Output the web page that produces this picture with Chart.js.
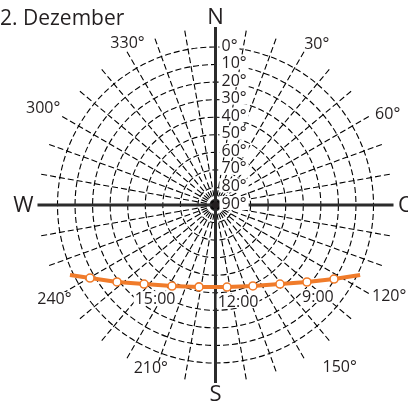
<!DOCTYPE html>
<html>
<head>
<meta charset="utf-8">
<script src="https://cdn.jsdelivr.net/npm/chart.js@4.4.1/dist/chart.umd.min.js"></script>
<style>
  html, body { margin: 0; padding: 0; background: #fff; }
  #wrap { width: 408px; height: 401px; position: relative; }
</style>
</head>
<body>
<div id="wrap"><canvas id="sunChart"></canvas></div>
<script>
// Titel und Beschriftungen
const titleText = '2. Dezember';
const altitudeRings = [0, 10, 20, 30, 40, 50, 60, 70, 80];
const altitudeLabels = ['0°', '10°', '20°', '30°', '40°', '50°', '60°', '70°', '80°', '90°'];
const azimuthTicks = [30, 60, 120, 150, 210, 240, 300, 330];
const azimuthLabels = ['30°', '60°', '120°', '150°', '210°', '240°', '300°', '330°'];
const cardinalLabels = ['N', 'O', 'S', 'W'];

// Sonnenbahn (Azimut / Höhe in Grad)
const pathAzimuth  = [244.3, 239.8, 232.0, 222.1, 208.2, 191.4, 172.0, 155.2, 140.8, 130.1, 122.0, 115.8];
const pathAltitude = [-2.0, 7.3, 18.8, 29.3, 37.6, 42.4, 42.8, 39.2, 31.9, 21.9, 10.4, -1.5];
const pathHours    = ['', '17:00', '16:00', '15:00', '14:00', '13:00', '12:00', '11:00', '10:00', '9:00', '8:00', ''];
const shownHours   = ['15:00', '12:00', '9:00'];

const ORANGE = '#f07b2a';
const INK = '#231f20';
const FONT = '"Open Sans", "Noto Sans", sans-serif';

function toXY(az, alt) {
  const r = 90 - alt;
  const a = az * Math.PI / 180;
  return { x: r * Math.sin(a), y: r * Math.cos(a) };
}

const pathPoints = pathAzimuth.map((az, i) => toXY(az, pathAltitude[i]));

// Gitter, Achsen und Texte über die Skalen zeichnen
const polarGrid = {
  id: 'polarGrid',
  beforeDatasetsDraw(chart) {
    const { ctx, scales: { x, y } } = chart;
    const cx = x.getPixelForValue(0);
    const cy = y.getPixelForValue(0);
    const k = x.getPixelForValue(1) - cx;
    const outer = 101.4 * k;

    ctx.save();
    ctx.strokeStyle = '#000';
    ctx.lineWidth = 1.1;
    ctx.setLineDash([6, 3]);

    altitudeRings.forEach(alt => {
      ctx.beginPath();
      ctx.arc(cx, cy, (90 - alt) * k, 0, Math.PI * 2);
      ctx.stroke();
    });

    for (let b = 0; b < 360; b += 10) {
      if (b % 90 === 0) continue;
      const a = b * Math.PI / 180;
      ctx.beginPath();
      ctx.moveTo(cx, cy);
      ctx.lineTo(cx + outer * Math.sin(a), cy - outer * Math.cos(a));
      ctx.stroke();
    }

    // Hauptachsen
    ctx.setLineDash([]);
    ctx.lineWidth = 3;
    ctx.strokeStyle = '#2b2b2b';
    ctx.beginPath();
    ctx.moveTo(cx, cy - outer);
    ctx.lineTo(cx, cy + outer);
    ctx.moveTo(cx - outer, cy);
    ctx.lineTo(cx + outer, cy);
    ctx.stroke();
    ctx.beginPath();
    ctx.arc(cx, cy, 3.5, 0, Math.PI * 2);
    ctx.fillStyle = INK;
    ctx.fill();

    // Höhenbeschriftung
    ctx.font = '16px ' + FONT;
    ctx.textBaseline = 'middle';
    ctx.textAlign = 'left';
    altitudeLabels.forEach((t, i) => {
      const ly = cy - (90 - i * 10) * k - 2;
      const w = ctx.measureText(t).width;
      ctx.fillStyle = '#fff';
      ctx.fillRect(cx + 4, ly - 7, w + 4, 14);
      ctx.fillStyle = INK;
      ctx.fillText(t, cx + 6, ly + 1);
    });

    // Himmelsrichtungen
    ctx.font = '22px ' + FONT;
    ctx.textAlign = 'center';
    const cardPos = { N: [0, 188], O: [90, 191], S: [180, 189], W: [270, 192] };
    cardinalLabels.forEach(t => {
      const [b, r] = cardPos[t];
      const a = b * Math.PI / 180;
      ctx.fillText(t, cx + r * Math.sin(a), cy - r * Math.cos(a) + 1);
    });

    // Azimutbeschriftung
    ctx.font = '16px ' + FONT;
    const azPos = { 30: [32, 191], 60: [62, 195], 120: [117.6, 196], 150: [142.5, 204],
                    210: [201.7, 175], 240: [240, 186], 300: [299.5, 198], 330: [331.6, 185] };
    azimuthTicks.forEach((b0, i) => {
      const [b, r] = azPos[b0];
      const a = b * Math.PI / 180;
      const tx = cx + r * Math.sin(a), ty = cy - r * Math.cos(a) + 1;
      const w = ctx.measureText(azimuthLabels[i]).width;
      ctx.fillStyle = '#fff';
      ctx.fillRect(tx - w / 2 - 1, ty - 7, w + 2, 14);
      ctx.fillStyle = INK;
      ctx.fillText(azimuthLabels[i], tx, ty);
    });

    // Titel
    ctx.font = '21px ' + FONT;
    ctx.textAlign = 'left';
    ctx.textBaseline = 'alphabetic';
    ctx.fillText(titleText, 0, 25);
    ctx.restore();
  },
  afterDatasetsDraw(chart) {
    const { ctx } = chart;
    const meta = chart.getDatasetMeta(0);
    ctx.save();
    ctx.font = '16px ' + FONT;
    ctx.textAlign = 'center';
    ctx.textBaseline = 'middle';
    pathHours.forEach((h, i) => {
      if (!shownHours.includes(h)) return;
      const p = meta.data[i];
      const tx = p.x + 11, ty = p.y + 14;
      const w = ctx.measureText(h).width;
      ctx.fillStyle = '#fff';
      ctx.fillRect(tx - w / 2 - 1, ty - 7, w + 2, 14);
      ctx.fillStyle = INK;
      ctx.fillText(h, tx, ty + 1);
    });
    ctx.restore();
  }
};

const K = 158 / 90; // Pixel je Grad
new Chart(document.getElementById('sunChart'), {
  type: 'scatter',
  data: {
    datasets: [{
      data: pathPoints,
      showLine: true,
      borderColor: ORANGE,
      borderWidth: 4,
      pointRadius: pathHours.map(h => (h ? 4 : 0)),
      pointBackgroundColor: '#fff',
      pointBorderColor: ORANGE,
      pointBorderWidth: 1.6,
      tension: 0
    }]
  },
  options: {
    responsive: true,
    maintainAspectRatio: false,
    animation: false,
    layout: { padding: 0 },
    plugins: { legend: { display: false }, tooltip: { enabled: false }, title: { display: false } },
    scales: {
      x: { type: 'linear', display: false, min: -215.5 / K, max: (408 - 215.5) / K },
      y: { type: 'linear', display: false, min: -(401 - 205) / K, max: 205 / K }
    }
  },
  plugins: [polarGrid]
});
</script>
</body>
</html>
